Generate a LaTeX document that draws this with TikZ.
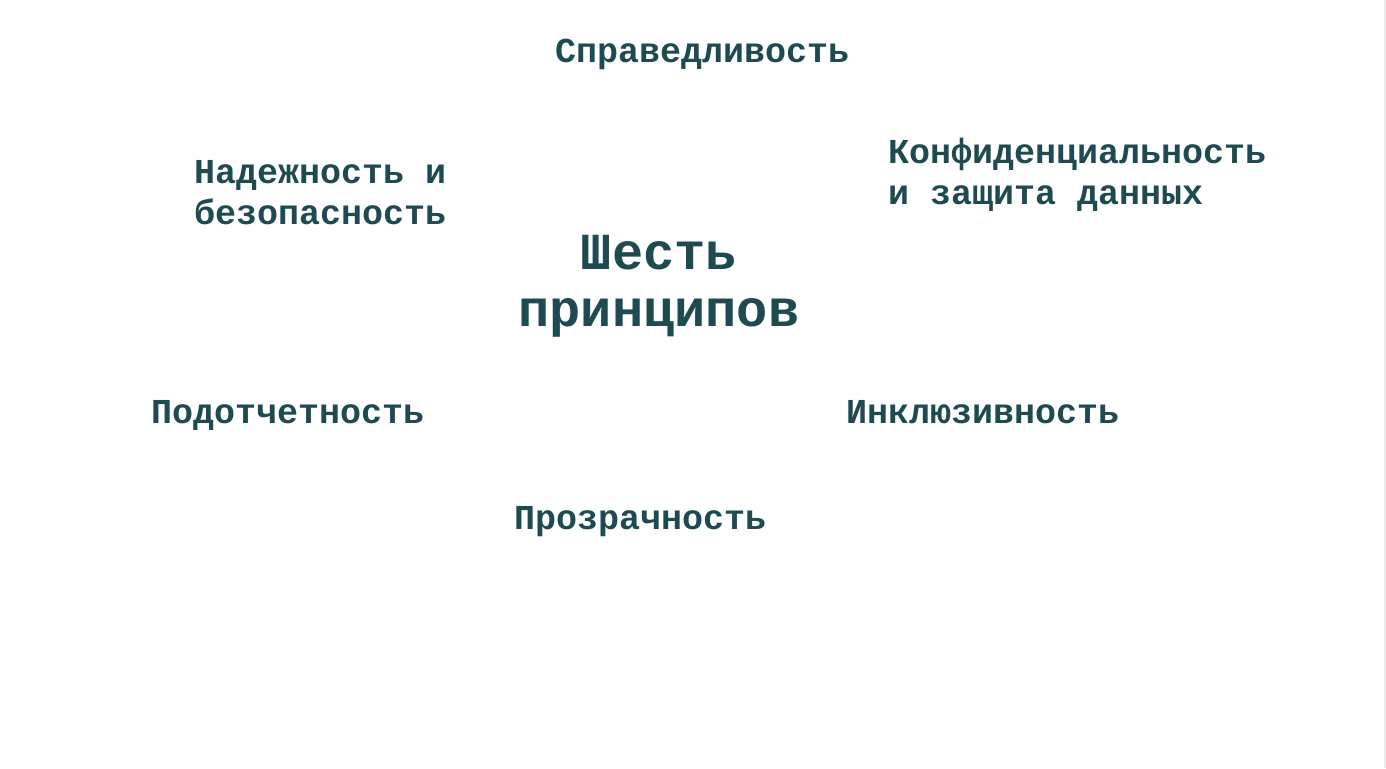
\documentclass[tikz,border=0pt]{standalone}
\usepackage{fontspec}
\setmonofont{Liberation Mono}
\definecolor{principlecolor}{RGB}{30,74,82}
\tikzset{
  principle/.style={anchor=base west, inner sep=0pt, align=left,
    text=principlecolor, font=\ttfamily\bfseries\fontsize{35}{41}\selectfont},
  heading/.style={anchor=base, inner sep=0pt, align=center,
    text=principlecolor, font=\ttfamily\bfseries\fontsize{52}{57}\selectfont}
}
\begin{document}
\begin{tikzpicture}[x=1pt, y=-1pt]
  \useasboundingbox (0,0) rectangle (1386,768);
  \fill[white] (0,0) rectangle (1386,768);
  \draw[black!8, line width=1.5pt] (1385,0) -- (1385,768);
  % centre: the six principles
  \node[heading] (six) at (659,326) {Шесть\\принципов};
  % the principles around it
  \node[principle] (fairness) at (555,63) {Справедливость};
  \node[principle] (reliability) at (194,224) {Надежность и\\безопасность};
  \node[principle] (privacy) at (888,204) {Конфиденциальность\\и защита данных};
  \node[principle] (accountability) at (151,423) {Подотчетность};
  \node[principle] (inclusiveness) at (846,423) {Инклюзивность};
  \node[principle] (transparency) at (514,529) {Прозрачность};
\end{tikzpicture}
\end{document}
